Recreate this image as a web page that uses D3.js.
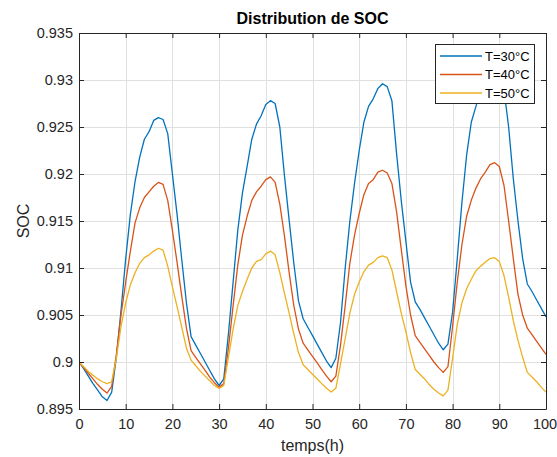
<!DOCTYPE html>
<html>
<head>
<meta charset="utf-8">
<script src="https://cdn.jsdelivr.net/npm/d3@7"></script>
<style>
  html, body { margin: 0; padding: 0; background: #fff; }
  svg { display: block; font-family: "Liberation Sans", Arial, sans-serif; }
</style>
</head>
<body>
<svg id="chart" width="557" height="457"></svg>
<script>
// ---- data ----
const hours = d3.range(0, 101);
const socT30 = [
  0.9000,0.8993,0.8985,0.8977,0.8970,0.8963,0.8959,0.8968,0.9005,0.9055,
  0.9110,0.9157,0.9192,0.9218,0.9237,0.9245,0.9257,0.9260,0.9258,0.9243,
  0.9200,0.9157,0.9109,0.9063,0.9027,0.9018,0.9009,0.9000,0.8991,0.8982,
  0.8975,0.8982,0.9030,0.9085,0.9140,0.9180,0.9208,0.9237,0.9253,0.9262,
  0.9274,0.9278,0.9275,0.9250,0.9198,0.9151,0.9105,0.9065,0.9046,0.9037,
  0.9028,0.9019,0.9010,0.9001,0.8994,0.9004,0.9042,0.9100,0.9150,0.9190,
  0.9225,0.9255,0.9272,0.9280,0.9291,0.9296,0.9293,0.9278,0.9222,0.9172,
  0.9128,0.9085,0.9064,0.9056,0.9047,0.9038,0.9029,0.9020,0.9013,0.9019,
  0.9053,0.9110,0.9170,0.9220,0.9255,0.9272,0.9290,0.9302,0.9311,0.9314,
  0.9310,0.9290,0.9250,0.9195,0.9150,0.9110,0.9083,0.9075,0.9066,0.9057,
  0.9048
];
const socT40 = [
  0.9000,0.8994,0.8988,0.8982,0.8976,0.8971,0.8967,0.8974,0.9008,0.9050,
  0.9085,0.9118,0.9148,0.9164,0.9175,0.9181,0.9187,0.9191,0.9189,0.9172,
  0.9140,0.9106,0.9070,0.9036,0.9012,0.9005,0.8998,0.8991,0.8984,0.8978,
  0.8973,0.8977,0.9015,0.9060,0.9103,0.9135,0.9155,0.9172,0.9181,0.9187,
  0.9194,0.9197,0.9191,0.9168,0.9134,0.9095,0.9060,0.9035,0.9020,0.9013,
  0.9006,0.8999,0.8992,0.8985,0.8979,0.8985,0.9018,0.9060,0.9105,0.9135,
  0.9158,0.9178,0.9190,0.9194,0.9202,0.9204,0.9201,0.9190,0.9160,0.9120,
  0.9081,0.9050,0.9028,0.9021,0.9014,0.9007,0.9000,0.8994,0.8989,0.8995,
  0.9038,0.9085,0.9125,0.9155,0.9172,0.9185,0.9195,0.9202,0.9210,0.9212,
  0.9208,0.9188,0.9150,0.9110,0.9072,0.9050,0.9036,0.9029,0.9022,0.9015,
  0.9008
];
const socT50 = [
  0.9000,0.8995,0.8990,0.8986,0.8982,0.8979,0.8977,0.8979,0.9004,0.9038,
  0.9063,0.9082,0.9095,0.9105,0.9111,0.9114,0.9118,0.9121,0.9119,0.9102,
  0.9080,0.9059,0.9037,0.9015,0.9002,0.8996,0.8990,0.8985,0.8980,0.8975,
  0.8972,0.8975,0.9005,0.9035,0.9060,0.9075,0.9088,0.9100,0.9107,0.9109,
  0.9115,0.9118,0.9114,0.9095,0.9073,0.9052,0.9030,0.9010,0.8997,0.8992,
  0.8987,0.8982,0.8977,0.8972,0.8968,0.8972,0.8998,0.9025,0.9052,0.9072,
  0.9085,0.9096,0.9103,0.9106,0.9111,0.9113,0.9111,0.9098,0.9075,0.9052,
  0.9032,0.9010,0.8992,0.8987,0.8982,0.8976,0.8971,0.8967,0.8964,0.8970,
  0.9004,0.9040,0.9063,0.9078,0.9088,0.9097,0.9102,0.9106,0.9110,0.9111,
  0.9107,0.9092,0.9069,0.9044,0.9023,0.9005,0.8989,0.8984,0.8979,0.8973,
  0.8968
];
const seriesNames = ["T=30°C", "T=40°C", "T=50°C"];
const seriesColors = ["#0072BD", "#D95319", "#EDB120"];
const xTicks = [0, 10, 20, 30, 40, 50, 60, 70, 80, 90, 100];
const yTicks = [0.895, 0.9, 0.905, 0.91, 0.915, 0.92, 0.925, 0.93, 0.935];
const yTickLabels = ["0.895", "0.9", "0.905", "0.91", "0.915", "0.92", "0.925", "0.93", "0.935"];
const titleText = "Distribution de SOC";
const xLabel = "temps(h)";
const yLabel = "SOC";

// ---- layout ----
const L = 79, R = 546, T = 33, B = 409;
const axisColor = "#262626";
const svg = d3.select("#chart");

const x = d3.scaleLinear().domain([0, 100]).range([L, R]);
const y = d3.scaleLinear().domain([0.895, 0.935]).range([B, T]);

// grid
const grid = svg.append("g").attr("stroke", "#e0e0e0").attr("stroke-width", 1);
grid.selectAll("line.gx").data(xTicks).join("line")
  .attr("x1", d => Math.round(x(d)) + 0.5).attr("x2", d => Math.round(x(d)) + 0.5)
  .attr("y1", T).attr("y2", B);
grid.selectAll("line.gy").data(yTicks).join("line")
  .attr("y1", d => Math.round(y(d)) + 0.5).attr("y2", d => Math.round(y(d)) + 0.5)
  .attr("x1", L).attr("x2", R);

// lines
const series = [socT30, socT40, socT50];
svg.append("clipPath").attr("id", "clip").append("rect")
  .attr("x", L).attr("y", T).attr("width", R - L).attr("height", B - T);
const line = d3.line().x((d, i) => x(hours[i])).y(d => y(d));
svg.append("g").attr("clip-path", "url(#clip)")
  .selectAll("path").data(series).join("path")
  .attr("d", d => line(d))
  .attr("fill", "none")
  .attr("stroke", (d, i) => seriesColors[i])
  .attr("stroke-width", 1.3)
  .attr("stroke-linejoin", "round");

// axes
const tickLen = 5;
function styleAxis(g) {
  g.select(".domain").attr("stroke", axisColor);
  g.selectAll(".tick line").attr("stroke", axisColor);
  g.selectAll(".tick text").attr("fill", axisColor)
    .style("font-family", '"Liberation Sans", Arial, sans-serif').style("font-size", "14.5px");
}
const xAxisG = svg.append("g").attr("transform", `translate(0,${B})`)
  .call(d3.axisBottom(x).tickValues(xTicks).tickSizeInner(-tickLen).tickSizeOuter(0).tickPadding(10))
  .call(styleAxis);
// keep the last label inside the page edge
xAxisG.selectAll(".tick text").filter(d => d === 100).attr("dx", "-1.5");
svg.append("g").attr("transform", `translate(${L},0)`)
  .call(d3.axisLeft(y).tickValues(yTicks).tickFormat((d, i) => yTickLabels[i])
    .tickSizeInner(-tickLen).tickSizeOuter(0).tickPadding(6))
  .call(styleAxis);
svg.append("g").attr("transform", `translate(0,${T})`)
  .call(d3.axisTop(x).tickValues(xTicks).tickFormat("").tickSizeInner(-tickLen).tickSizeOuter(0))
  .call(styleAxis);
svg.append("g").attr("transform", `translate(${R},0)`)
  .call(d3.axisRight(y).tickValues(yTicks).tickFormat("").tickSizeInner(-tickLen).tickSizeOuter(0))
  .call(styleAxis);

// labels
svg.append("text").attr("x", (L + R) / 2).attr("y", 24)
  .attr("text-anchor", "middle").attr("font-weight", "bold")
  .attr("font-size", "16px").attr("fill", "#000").text(titleText);
svg.append("text").attr("x", (L + R) / 2).attr("y", 451)
  .attr("text-anchor", "middle").attr("font-size", "16px").attr("fill", axisColor).text(xLabel);
svg.append("text").attr("transform", `translate(29,${(T + B) / 2}) rotate(-90)`)
  .attr("text-anchor", "middle").attr("font-size", "16px").attr("fill", axisColor).text(yLabel);

// legend
const lg = svg.append("g");
lg.append("rect").attr("x", 435.5).attr("y", 44.5).attr("width", 99).attr("height", 59)
  .attr("fill", "#fff").attr("stroke", axisColor).attr("stroke-width", 1);
const rows = [56, 74.5, 93];
seriesNames.forEach((name, i) => {
  lg.append("line").attr("x1", 440).attr("x2", 482).attr("y1", rows[i]).attr("y2", rows[i])
    .attr("stroke", seriesColors[i]).attr("stroke-width", 1.3);
  lg.append("text").attr("x", 485).attr("y", rows[i]).attr("dy", "0.35em")
    .attr("font-size", "13px").attr("fill", "#000").text(name);
});
</script>
</body>
</html>
